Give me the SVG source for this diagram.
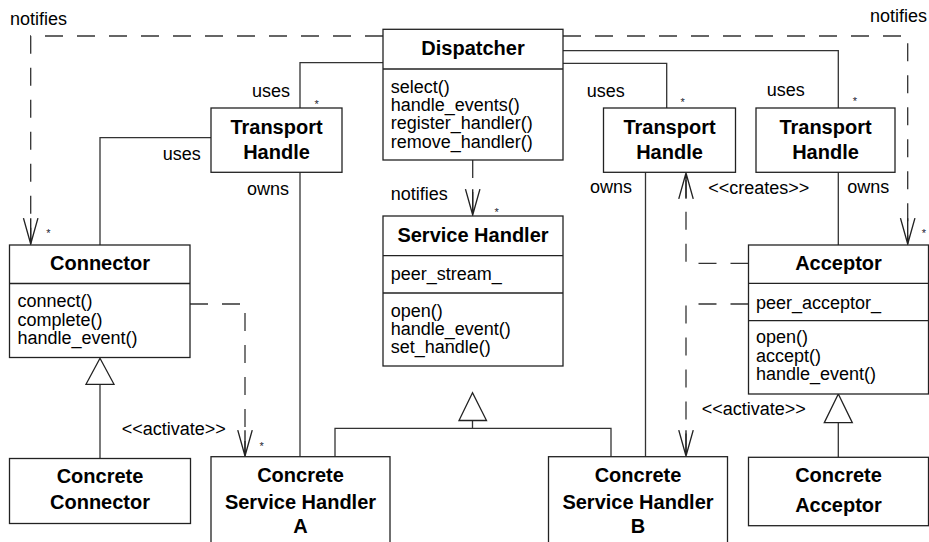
<svg xmlns="http://www.w3.org/2000/svg" width="929" height="542" viewBox="0 0 929 542">
<style>
.box{fill:#fff;stroke:#222;stroke-width:1.3}
.div{stroke:#222;stroke-width:1.3}
.ln{fill:none;stroke:#333;stroke-width:1.3}
.dash{fill:none;stroke:#333;stroke-width:1.3;stroke-dasharray:18 14}
.tri{fill:#fff;stroke:#222;stroke-width:1.3}
.t{font-family:"Liberation Sans",Arial,sans-serif;font-size:18px;fill:#000}
.b{font-family:"Liberation Sans",Arial,sans-serif;font-size:20px;font-weight:bold;fill:#000;text-anchor:middle}
.s{font-family:"Liberation Sans",Arial,sans-serif;font-size:11px;fill:#223;text-anchor:middle}
</style>
<defs>
<marker id="arr" markerUnits="userSpaceOnUse" markerWidth="30" markerHeight="20" viewBox="-27 -9 29 18" refX="0" refY="0" orient="auto">
<path d="M-25,-7 L0,0 L-25,7 M-25,0 L0,0" fill="none" stroke="#222" stroke-width="1.3"/>
</marker>
</defs>
<rect width="929" height="542" fill="#fff"/>
<g id="connectors">
<path class="dash" d="M383,36 H30.7 V244" marker-end="url(#arr)"/>
<path class="dash" d="M563,36 H907.7 V244" marker-end="url(#arr)"/>
<path class="ln" d="M383,62.7 H300 V108"/>
<path class="ln" d="M211,137.7 H100 V245"/>
<path class="ln" d="M300,172 V456.7"/>
<path class="ln" d="M563,63.3 H666.7 V108"/>
<path class="ln" d="M563,50.7 H838.3 V108"/>
<path class="ln" d="M645.5,172 V456.7"/>
<path class="ln" d="M838.3,172 V245"/>
<path class="dash" d="M472.7,160 V215" marker-end="url(#arr)"/>
<path class="dash" d="M190,304 H245 V456" marker-end="url(#arr)"/>
<path class="dash" d="M748.5,263.3 H686 V173" marker-end="url(#arr)"/>
<path class="dash" d="M748.5,304 H686 V456" marker-end="url(#arr)"/>
<path class="ln" d="M100,384.3 V458.5"/>
<polygon class="tri" points="100,358.3 86,384.3 114,384.3"/>
<path class="ln" d="M472.5,420.5 V428.3 M335,456.7 V428.3 H611 V456.7"/>
<polygon class="tri" points="472.5,392.7 459,420.5 486.5,420.5"/>
<path class="ln" d="M838.3,422.7 V457.3"/>
<polygon class="tri" points="838.3,394 824.3,422.7 852.3,422.7"/>
<text class="t" x="10" y="25">notifies</text>
<text class="t" x="870" y="21.5">notifies</text>
<text class="t" x="252" y="97">uses</text>
<text class="s" x="316.7" y="108">*</text>
<text class="t" x="162.7" y="159.5">uses</text>
<text class="t" x="247" y="194.5">owns</text>
<text class="t" x="586.7" y="97">uses</text>
<text class="s" x="682.7" y="105.5">*</text>
<text class="t" x="766.7" y="95.5">uses</text>
<text class="s" x="855" y="104.5">*</text>
<text class="t" x="590" y="193">owns</text>
<text class="t" x="708.3" y="193.5">&lt;&lt;creates&gt;&gt;</text>
<text class="t" x="847.3" y="193">owns</text>
<text class="t" x="390.7" y="200">notifies</text>
<text class="s" x="496.7" y="216">*</text>
<text class="s" x="48.3" y="237">*</text>
<text class="s" x="924" y="237">*</text>
<text class="t" x="121.7" y="435">&lt;&lt;activate&gt;&gt;</text>
<text class="s" x="261.7" y="449.5">*</text>
<text class="t" x="701.7" y="415">&lt;&lt;activate&gt;&gt;</text>
</g>
<g id="dispatcher">
<rect class="box" x="383" y="29.3" width="180" height="130.7"/>
<line class="div" x1="383" y1="69" x2="563" y2="69"/>
<text class="b" x="473" y="55">Dispatcher</text>
<text class="t" x="390.7" y="92.5">select()</text>
<text class="t" x="390.7" y="111">handle_events()</text>
<text class="t" x="390.7" y="129.3">register_handler()</text>
<text class="t" x="390.7" y="147.7">remove_handler()</text>
</g>
<g id="transport-handle-1">
<rect class="box" x="211" y="108" width="131" height="64.3"/>
<text class="b" x="276.5" y="133.5">Transport</text>
<text class="b" x="276.5" y="158.5">Handle</text>
</g>
<g id="transport-handle-2">
<rect class="box" x="603.5" y="108" width="132" height="64.3"/>
<text class="b" x="669.5" y="133.5">Transport</text>
<text class="b" x="669.5" y="158.5">Handle</text>
</g>
<g id="transport-handle-3">
<rect class="box" x="756" y="108" width="139" height="64.3"/>
<text class="b" x="825.5" y="133.5">Transport</text>
<text class="b" x="825.5" y="158.5">Handle</text>
</g>
<g id="connector">
<rect class="box" x="9.5" y="245" width="180.5" height="112.5"/>
<line class="div" x1="9.5" y1="283.5" x2="190" y2="283.5"/>
<text class="b" x="100" y="270">Connector</text>
<text class="t" x="17.5" y="307.3">connect()</text>
<text class="t" x="17.5" y="325.7">complete()</text>
<text class="t" x="17.5" y="344">handle_event()</text>
</g>
<g id="service-handler">
<rect class="box" x="383" y="216" width="180" height="150"/>
<line class="div" x1="383" y1="255.7" x2="563" y2="255.7"/>
<line class="div" x1="383" y1="293" x2="563" y2="293"/>
<text class="b" x="473" y="241.7">Service Handler</text>
<text class="t" x="390.7" y="280">peer_stream_</text>
<text class="t" x="390.7" y="316.7">open()</text>
<text class="t" x="390.7" y="335">handle_event()</text>
<text class="t" x="390.7" y="353.3">set_handle()</text>
</g>
<g id="acceptor">
<rect class="box" x="748.5" y="245" width="180" height="149"/>
<line class="div" x1="748.5" y1="283.3" x2="928.5" y2="283.3"/>
<line class="div" x1="748.5" y1="320.7" x2="928.5" y2="320.7"/>
<text class="b" x="838.5" y="270">Acceptor</text>
<text class="t" x="756" y="309">peer_acceptor_</text>
<text class="t" x="756" y="343.3">open()</text>
<text class="t" x="756" y="361.5">accept()</text>
<text class="t" x="756" y="379.8">handle_event()</text>
</g>
<g id="concrete-connector">
<rect class="box" x="9.5" y="458.5" width="181" height="65"/>
<text class="b" x="100" y="483.3">Concrete</text>
<text class="b" x="100" y="509.3">Connector</text>
</g>
<g id="concrete-service-handler-a">
<rect class="box" x="211" y="456.7" width="179" height="95"/>
<text class="b" x="300.5" y="481.7">Concrete</text>
<text class="b" x="300.5" y="509.3">Service Handler</text>
<text class="b" x="300.5" y="533.3">A</text>
</g>
<g id="concrete-service-handler-b">
<rect class="box" x="548.5" y="456.7" width="179" height="95"/>
<text class="b" x="638" y="481.7">Concrete</text>
<text class="b" x="638" y="509.3">Service Handler</text>
<text class="b" x="638" y="533.3">B</text>
</g>
<g id="concrete-acceptor">
<rect class="box" x="748.5" y="457.3" width="180" height="68.4"/>
<text class="b" x="838.5" y="482.3">Concrete</text>
<text class="b" x="838.5" y="511.7">Acceptor</text>
</g>
</svg>
